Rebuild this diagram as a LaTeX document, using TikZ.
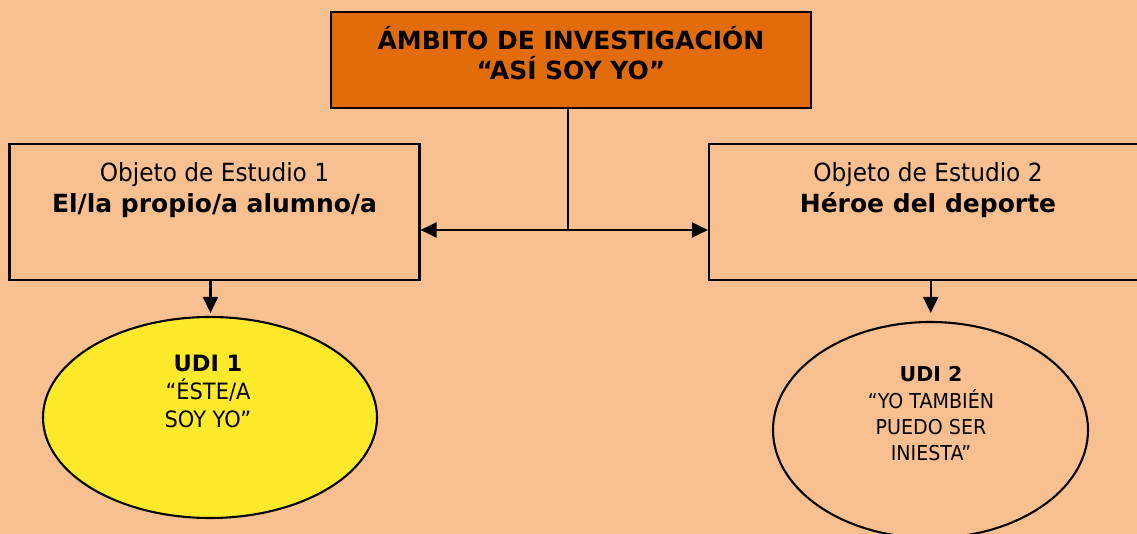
\documentclass[tikz,border=0pt]{standalone}
\usepackage{fontspec}
\usetikzlibrary{arrows.meta,shapes.geometric}
\setmainfont{DejaVu Sans}[FakeStretch=0.93]
\newfontfamily\boldf{DejaVu Sans Bold}
\definecolor{bgorange}{HTML}{F8C090}
\definecolor{titleorange}{HTML}{E26B0A}
\definecolor{udiyellow}{HTML}{FFE92B}
\tikzset{
  boxnode/.style={draw=black, line width=2.1pt, rectangle, inner sep=0pt},
  ellnode/.style={draw=black, line width=2.1pt, ellipse, inner sep=0pt},
  bigtxt/.style={anchor=base, inner sep=0pt, font=\fontsize{25}{30}\selectfont},
  bigbold/.style={anchor=base, inner sep=0pt, font=\boldf\fontsize{25}{30}\selectfont},
  midtxt/.style={anchor=base, inner sep=0pt, font=\fontsize{22.5}{27}\selectfont},
  midbold/.style={anchor=base, inner sep=0pt, font=\boldf\fontsize{22.5}{27}\selectfont},
  smtxt/.style={anchor=base, inner sep=0pt, font=\fontsize{20.5}{25}\selectfont},
  smbold/.style={anchor=base, inner sep=0pt, font=\boldf\fontsize{20.5}{25}\selectfont},
  conn/.style={line width=2.1pt},
  arr/.style={line width=2.1pt, -{Triangle[length=16pt,width=15pt]}},
  dblarr/.style={line width=2.1pt, {Triangle[length=16pt,width=15pt]}-{Triangle[length=16pt,width=15pt]}}
}
\begin{document}
\begin{tikzpicture}[x=1pt,y=-1pt]
\useasboundingbox (0,0) rectangle (1137,534);
\clip (0,0) rectangle (1137,534);
\fill[bgorange] (0,0) rectangle (1137,534);

% boxes
\node[boxnode, fill=titleorange, minimum width=480pt, minimum height=96pt] (title) at (571,60) {};
\node[boxnode, minimum width=410pt, minimum height=136pt] (obj1) at (214.5,212) {};
\node[boxnode, minimum width=438pt, minimum height=136pt] (obj2) at (928,212) {};

% ellipses
\node[ellnode, fill=udiyellow, minimum width=334pt, minimum height=201pt] (udi1) at (210,417.5) {};
\node[ellnode, minimum width=315pt, minimum height=216pt] (udi2) at (930.5,430) {};

% title text
\node[bigbold] (tl1) at (571,50) {ÁMBITO DE INVESTIGACIÓN};
\node[bigbold] (tl2) at (571,80) {“ASÍ SOY YO”};

% box texts
\node[bigtxt] (o1a) at (214.5,182) {Objeto de Estudio 1};
\node[bigbold] (o1b) at (214.5,213) {El/la propio/a alumno/a};
\node[bigtxt] (o2a) at (928,182) {Objeto de Estudio 2};
\node[bigbold] (o2b) at (928,213) {Héroe del deporte};

% ellipse texts
\node[midbold] (u1a) at (208,371) {UDI 1};
\node[midtxt] (u1b) at (208,399.5) {“ÉSTE/A};
\node[midtxt] (u1c) at (208,427.5) {SOY YO”};
\node[smbold] (u2a) at (931,381.5) {UDI 2};
\node[smtxt] (u2b) at (931,408) {“YO TAMBIÉN};
\node[smtxt] (u2c) at (931,434) {PUEDO SER};
\node[smtxt] (u2d) at (931,460) {INIESTA”};

% connectors
\coordinate (junc) at (567.7,230);
\coordinate (d1top) at (210.5,280);
\coordinate (d1tip) at (210.5,313);
\coordinate (d2top) at (930.7,280);
\coordinate (d2tip) at (930.7,313);
\draw[conn] (title.south -| junc) -- (junc);
\draw[dblarr] (obj1.east |- junc) -- (obj2.west |- junc);
\draw[arr] (obj1.south -| d1top) -- (d1tip);
\draw[arr] (obj2.south -| d2top) -- (d2tip);
\end{tikzpicture}
\end{document}
